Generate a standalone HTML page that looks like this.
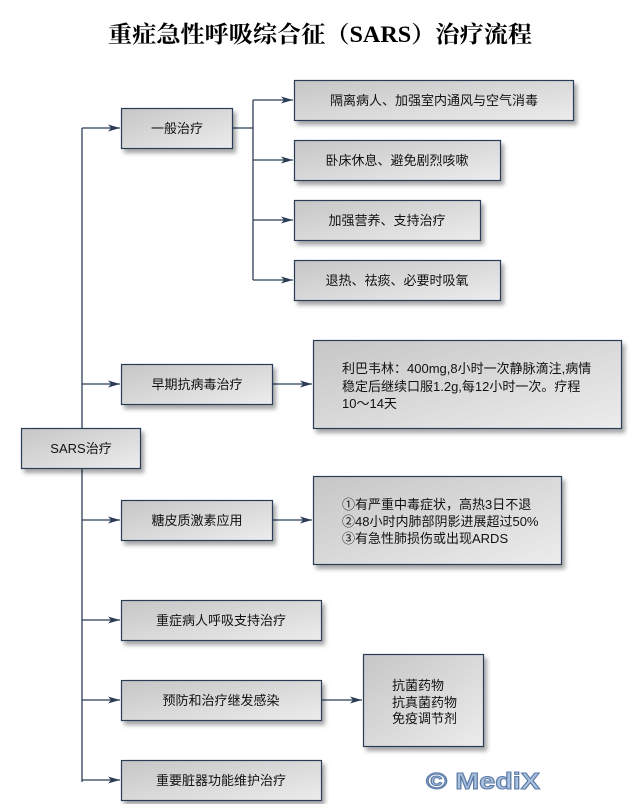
<!DOCTYPE html>
<html><head><meta charset="utf-8"><style>
body{margin:0;background:#fff;}
svg text{font-family:"Liberation Sans","Noto Sans CJK SC","WenQuanYi Zen Hei",sans-serif;font-size:13px;fill:#111;}
</style></head><body>
<svg width="642" height="804" viewBox="0 0 642 804" xmlns="http://www.w3.org/2000/svg">
<defs>
<linearGradient id="g" x1="0" y1="0" x2="1" y2="1">
<stop offset="0" stop-color="#c6c6c6"/><stop offset="1" stop-color="#ececec"/>
</linearGradient>
<filter id="sh" x="-10%" y="-10%" width="130%" height="140%">
<feDropShadow dx="3" dy="4" stdDeviation="2" flood-color="#000" flood-opacity="0.35"/>
</filter>
<marker id="a" markerWidth="12" markerHeight="8" refX="12" refY="4" orient="auto" markerUnits="userSpaceOnUse">
<path d="M0,0.5 L12,4 L0,7.5 L3,4 Z" fill="#2c3e56"/>
</marker>
</defs>
<text x="108" y="42" textLength="424" lengthAdjust="spacingAndGlyphs" style="font-family:'Liberation Serif','Noto Serif CJK SC',serif;font-size:23px;font-weight:bold;fill:#000">重症急性呼吸综合征（SARS）治疗流程</text>

<g stroke="#2c3e56" stroke-width="1.3" fill="none">
<path d="M82,128 V782"/>
<path d="M82,128 H120" marker-end="url(#a)"/>
<path d="M82,384 H120" marker-end="url(#a)"/>
<path d="M82,520 H120" marker-end="url(#a)"/>
<path d="M82,620 H120" marker-end="url(#a)"/>
<path d="M82,700 H120" marker-end="url(#a)"/>
<path d="M82,780 H120" marker-end="url(#a)"/>
<path d="M232,128 H253"/>
<path d="M253,100 V280"/>
<path d="M253,100 H293" marker-end="url(#a)"/>
<path d="M253,160 H293" marker-end="url(#a)"/>
<path d="M253,220 H293" marker-end="url(#a)"/>
<path d="M253,280 H293" marker-end="url(#a)"/>
<path d="M272,384 H312" marker-end="url(#a)"/>
<path d="M272,520 H312" marker-end="url(#a)"/>
<path d="M321,700 H362" marker-end="url(#a)"/>
</g>

<g fill="url(#g)" stroke="#2c3e56" stroke-width="1.2" filter="url(#sh)">
<rect x="21.5" y="428.5" width="119" height="40"/>
<rect x="121.5" y="108.5" width="111" height="40"/>
<rect x="294.5" y="80.5" width="279" height="40"/>
<rect x="294.5" y="140.5" width="206" height="40"/>
<rect x="294.5" y="200.5" width="186" height="40"/>
<rect x="294.5" y="260.5" width="206" height="40"/>
<rect x="121.5" y="364.5" width="151" height="40"/>
<rect x="313.5" y="340.5" width="308" height="88"/>
<rect x="121.5" y="500.5" width="151" height="40"/>
<rect x="313.5" y="476.5" width="248" height="88"/>
<rect x="121.5" y="600.5" width="200" height="40"/>
<rect x="121.5" y="680.5" width="200" height="40"/>
<rect x="363.5" y="654.5" width="120" height="92"/>
<rect x="121.5" y="760.5" width="200" height="40"/>
</g>

<g text-anchor="middle">
<text x="81" y="453">SARS治疗</text>
<text x="177" y="133">一般治疗</text>
<text x="434" y="105">隔离病人、加强室内通风与空气消毒</text>
<text x="397" y="165">卧床休息、避免剧烈咳嗽</text>
<text x="387" y="225">加强营养、支持治疗</text>
<text x="397" y="285">退热、祛痰、必要时吸氧</text>
<text x="197" y="389">早期抗病毒治疗</text>
<text x="197" y="525">糖皮质激素应用</text>
<text x="221" y="625">重症病人呼吸支持治疗</text>
<text x="221" y="705">预防和治疗继发感染</text>
<text x="221" y="785">重要脏器功能维护治疗</text>
</g>
<g>
<text x="342" y="373">利巴韦林：400mg,8小时一次静脉滴注,病情</text>
<text x="342" y="391">稳定后继续口服1.2g,每12小时一次。疗程</text>
<text x="342" y="408">10～14天</text>
<text x="342" y="509">①有严重中毒症状，高热3日不退</text>
<text x="342" y="526">②48小时内肺部阴影进展超过50%</text>
<text x="342" y="543">③有急性肺损伤或出现ARDS</text>
<text x="392" y="690">抗菌药物</text>
<text x="392" y="707">抗真菌药物</text>
<text x="392" y="723">免疫调节剂</text>
</g>
<text x="426" y="789" textLength="114" lengthAdjust="spacingAndGlyphs" style="font-family:'Liberation Sans',sans-serif;font-size:23px;font-weight:bold;fill:#a9c0dc;stroke:#5a7aa6;stroke-width:1">© MediX</text>
</svg>
</body></html>
